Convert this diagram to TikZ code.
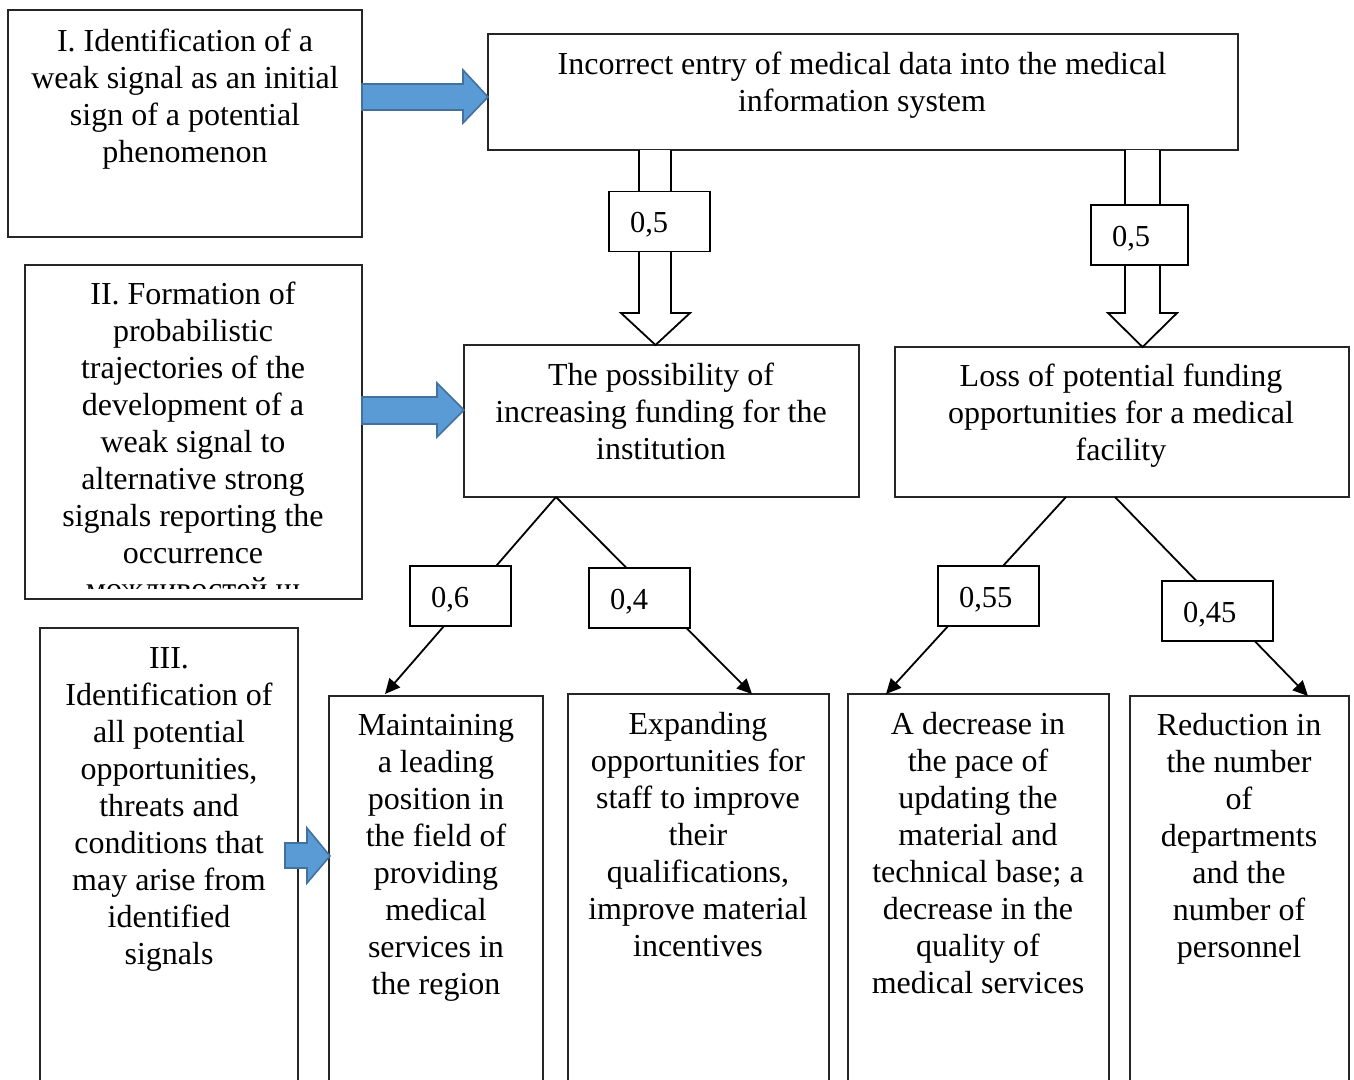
\documentclass[tikz,border=0pt]{standalone}
\usepackage{fontspec}
\setmainfont{Liberation Serif}
\usetikzlibrary{arrows.meta}
\definecolor{arrowblue}{HTML}{5B9BD5}
\definecolor{arrowedge}{HTML}{41719C}
\tikzset{
  box/.style={draw=black!85, line width=1.3pt, rectangle, inner sep=0pt},
  txt/.style={align=center, inner sep=0pt},
  prob/.style={draw, line width=1.8pt, fill=white, rectangle, minimum height=60pt,
    text width=#1, align=left, inner xsep=21pt, inner ysep=0pt,
    text height=24pt, text depth=2pt,
    font=\fontsize{30.5}{36}\selectfont},
  hollow/.style={draw, line width=1.8pt, fill=white, line join=miter},
  blockarrow/.style={draw=arrowedge, line width=1.6pt, fill=arrowblue, line join=miter},
  link/.style={line width=1.8pt, -{Triangle[length=15pt,width=14pt]}}
}
\begin{document}
\begin{tikzpicture}[x=1pt, y=-1pt, font=\fontsize{32}{37}\selectfont]
\clip (0,0) rectangle (1354,1079);
\fill[white] (0,0) rectangle (1354,1079);

% stage boxes on the left
\node[box, minimum width=354pt, minimum height=227pt] (stageI) at (185,123.5) {};
\node[txt] (stageItext) at (185,99) {I. Identification of a\\weak signal as an initial\\sign of a potential\\phenomenon};

\node[box, minimum width=337pt, minimum height=334pt] (stageII) at (193.5,432) {};
\node[txt] (stageIItext) at (193,423) {II. Formation of\\probabilistic\\trajectories of the\\development of a\\weak signal to\\alternative strong\\signals reporting the\\occurrence};
\begin{scope}
  \clip (25,265) rectangle (362,588);
  \node[txt, anchor=base] (stageIIcut) at (193,599) {можливостей щ};
\end{scope}

\node[box, minimum width=258pt, minimum height=462pt] (stageIII) at (169,859) {};
\node[txt] (stageIIItext) at (169,809) {III.\\Identification of\\all potential\\opportunities,\\threats and\\conditions that\\may arise from\\identified\\signals};

% event tree
\node[box, minimum width=750pt, minimum height=116pt] (root) at (863,92) {};
\node[txt] (roottext) at (862,85.5) {Incorrect entry of medical data into the medical\\information system};

\node[box, minimum width=395pt, minimum height=152pt] (midL) at (661.5,421) {};
\node[txt] (midLtext) at (661,411) {The possibility of\\increasing funding for the\\institution};

\node[box, minimum width=454pt, minimum height=150pt] (midR) at (1122,422) {};
\node[txt] (midRtext) at (1121,415.5) {Loss of potential funding\\opportunities for a medical\\facility};

\node[box, minimum width=214pt, minimum height=394pt] (leafA) at (436,893) {};
\node[txt] (leafAtext) at (436,857.5) {Maintaining\\a leading\\position in\\the field of\\providing\\medical\\services in\\the region};

\node[box, minimum width=261pt, minimum height=396pt] (leafB) at (698.5,892) {};
\node[txt] (leafBtext) at (698,834.5) {Expanding\\opportunities for\\staff to improve\\their\\qualifications,\\improve material\\incentives};

\node[box, minimum width=261pt, minimum height=396pt] (leafC) at (978.5,892) {};
\node[txt] (leafCtext) at (978,853) {A decrease in\\the pace of\\updating the\\material and\\technical base; a\\decrease in the\\quality of\\medical services};

\node[box, minimum width=219pt, minimum height=394pt] (leafD) at (1239.5,893) {};
\node[txt] (leafDtext) at (1239,838.5) {Reduction in\\the number\\of\\departments\\and the\\number of\\personnel};

% hollow arrows from the root event
\draw[hollow] (639,150) -- (639,313) -- (621,313) -- (655.5,345) -- (690,313) -- (671,313) -- (671,150);
\draw[hollow] (1125,150) -- (1125,313) -- (1108,313) -- (1142.5,347) -- (1177,313) -- (1160,313) -- (1160,150);
\node[prob=59pt] (pRootL) at (659.5,221.5) {0,5};
\node[prob=55pt] (pRootR) at (1139.5,235) {0,5};

% branch links
\coordinate (forkL) at (556,497);
\coordinate (forkRa) at (1066,497);
\coordinate (forkRb) at (1115,497);
\coordinate (inA) at (385,694);
\coordinate (inB) at (752,694);
\coordinate (inC) at (886,694);
\coordinate (inD) at (1308,696);
\draw[link] (forkL) -- (inA);
\draw[link] (forkL) -- (inB);
\draw[link] (forkRa) -- (inC);
\draw[link] (forkRb) -- (inD);
\node[prob=59pt] (pA) at (460.5,596) {0,6};
\node[prob=59pt] (pB) at (639.5,598) {0,4};
\node[prob=59pt] (pC) at (988.5,596) {0,55};
\node[prob=69pt] (pD) at (1217.5,611) {0,45};

% block arrows linking stages to levels
\draw[blockarrow] (362,84) -- (463,84) -- (463,70) -- (488,97) -- (463,123) -- (463,110) -- (362,110) -- cycle;
\draw[blockarrow] (362,397) -- (437,397) -- (437,383) -- (464,410) -- (437,437) -- (437,424) -- (362,424) -- cycle;
\draw[blockarrow] (285,843) -- (307,843) -- (307,828) -- (330,856) -- (307,883) -- (307,868) -- (285,868) -- cycle;
\end{tikzpicture}
\end{document}
